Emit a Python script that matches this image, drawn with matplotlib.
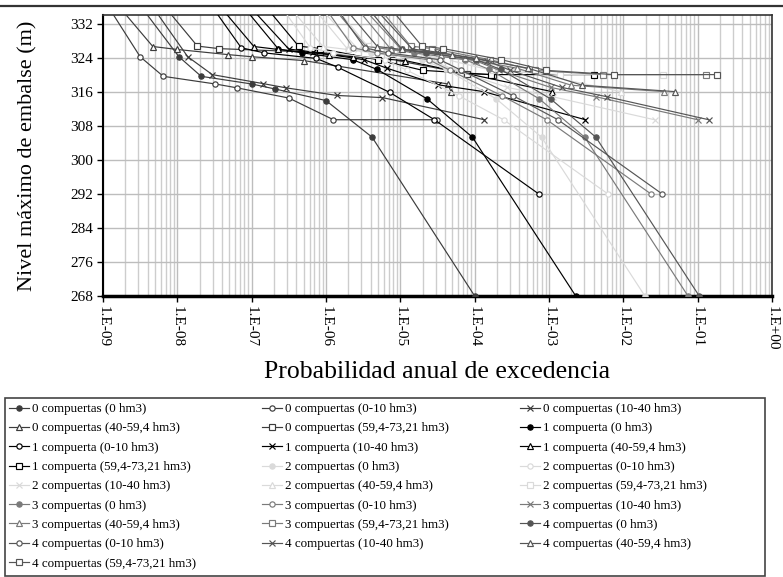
import numpy as np
import matplotlib
matplotlib.use("Agg")
import matplotlib.pyplot as plt
from matplotlib.lines import Line2D
from matplotlib.patches import Rectangle
from matplotlib.ticker import LogLocator, NullFormatter

# ---- data: annual exceedance probability vs. maximum reservoir level ----
gate_labels = ["0 compuertas", "1 compuerta", "2 compuertas", "3 compuertas", "4 compuertas"]
volume_labels = ["0 hm3", "0-10 hm3", "10-40 hm3", "40-59,4 hm3", "59,4-73,21 hm3"]

# initial volume 0 hm3
p_v0_g0 = [1.32e-9, 1.05e-8, 2.09e-8, 1.0e-7, 2.09e-7, 1.0e-6, 4.17e-6, 1.0e-4]
p_v0_g1 = [2.88e-8, 2.29e-7, 4.79e-7, 2.29e-6, 4.90e-6, 2.29e-5, 9.33e-5, 2.29e-3]
p_v0_g2 = [2.45e-7, 1.95e-6, 4.07e-6, 1.95e-5, 4.17e-5, 1.95e-4, 7.94e-4, 1.95e-2]
p_v0_g3 = [9.33e-7, 7.41e-6, 1.55e-5, 7.41e-5, 1.58e-4, 7.41e-4, 3.02e-3, 7.41e-2]
p_v0_g4 = [1.32e-6, 1.05e-5, 2.19e-5, 1.05e-4, 2.24e-4, 1.05e-3, 4.27e-3, 1.05e-1]
h_v0_g0 = [345, 324.2, 319.6, 317.8, 316.6, 313.9, 305.3, 268]
h_v0_gn = [345, 326.0, 325.1, 323.5, 321.2, 314.3, 305.3, 268]

# initial volume 0-10 hm3
p_v1_g0 = [5.5e-10, 3.16e-9, 6.46e-9, 3.24e-8, 6.31e-8, 3.16e-7, 1.26e-6, 3.16e-5]
p_v1_g1 = [1.26e-8, 7.24e-8, 1.48e-7, 7.41e-7, 1.45e-6, 7.24e-6, 2.88e-5, 7.24e-4]
p_v1_g2 = [1.07e-7, 6.17e-7, 1.26e-6, 6.31e-6, 1.23e-5, 6.17e-5, 2.45e-4, 6.17e-3]
p_v1_g3 = [4.07e-7, 2.34e-6, 4.79e-6, 2.40e-5, 4.68e-5, 2.34e-4, 9.33e-4, 2.34e-2]
p_v1_g4 = [5.75e-7, 3.31e-6, 6.76e-6, 3.39e-5, 6.61e-5, 3.31e-4, 1.32e-3, 3.31e-2]
h_v1_g0 = [345, 324.2, 319.6, 317.8, 316.9, 314.5, 309.4, 309.4]
h_v1_g1 = [345, 326.3, 325.1, 323.8, 321.7, 315.8, 309.4, 292]
h_v1_gn = [345, 326.3, 325.1, 323.5, 321.0, 315.0, 309.4, 292]

# initial volume 10-40 hm3
p_v2_g0 = [2.0e-9, 1.38e-8, 2.95e-8, 1.41e-7, 2.88e-7, 1.41e-6, 5.75e-6, 1.35e-4]
p_v2_g1 = [3.16e-8, 3.16e-7, 6.76e-7, 3.24e-6, 6.61e-6, 3.24e-5, 1.32e-4, 3.09e-3]
p_v2_g2 = [2.69e-7, 2.69e-6, 5.75e-6, 2.75e-5, 5.62e-5, 2.75e-4, 1.12e-3, 2.63e-2]
p_v2_g3 = [1.02e-6, 1.02e-5, 2.19e-5, 1.05e-4, 2.14e-4, 1.05e-3, 4.27e-3, 1.0e-1]
p_v2_g4 = [1.45e-6, 1.45e-5, 3.09e-5, 1.48e-4, 3.02e-4, 1.48e-3, 6.03e-3, 1.41e-1]
h_v2_g0 = [345, 324.2, 320.0, 317.9, 316.9, 315.1, 314.6, 309.4]
h_v2_g1 = [345, 326.0, 325.3, 323.5, 321.5, 317.6, 316.0, 309.4]
h_v2_gn = [345, 326.0, 325.3, 323.2, 321.0, 317.0, 314.8, 309.4]

# initial volume 40-59,4 hm3
p_v3_g0 = [6.0e-10, 4.68e-9, 1.0e-8, 4.79e-8, 1.0e-7, 5.01e-7, 4.37e-5, 4.79e-5]
p_v3_g1 = [1.38e-8, 1.07e-7, 2.29e-7, 1.10e-6, 2.29e-6, 1.15e-5, 1.10e-3]
p_v3_g2 = [1.17e-7, 9.12e-7, 1.95e-6, 9.33e-6, 1.95e-5, 9.77e-5, 9.33e-3]
p_v3_g3 = [4.47e-7, 3.47e-6, 7.41e-6, 3.55e-5, 7.41e-5, 3.72e-4, 2.0e-3, 3.55e-2]
p_v3_g4 = [6.31e-7, 4.90e-6, 1.05e-5, 5.01e-5, 1.05e-4, 5.25e-4, 2.8e-3, 5.01e-2]
h_v3_g0 = [345, 326.6, 325.9, 324.7, 324.2, 323.3, 317.8, 316.0]
h_v3_g1 = [345, 326.6, 325.9, 324.7, 324.2, 323.3, 316.0]
h_v3_g34 = [345, 326.6, 325.9, 324.7, 323.8, 321.5, 317.5, 316.0]

# initial volume 59,4-73,21 hm3
p_v4_g0 = [2.51e-9, 1.86e-8, 3.63e-8, 8.32e-7, 7.9e-6, 7.8e-5, 1.74e-4]
p_v4_g1 = [5.75e-8, 4.27e-7, 8.32e-7, 5.0e-6, 2.0e-5, 1.66e-4, 3.98e-3]
p_v4_g2 = [4.90e-7, 3.63e-6, 7.08e-6, 4.25e-5, 1.70e-4, 1.41e-3, 3.39e-2]
p_v4_g3 = [1.86e-6, 1.38e-5, 2.69e-5, 1.60e-4, 6.40e-4, 5.37e-3, 1.29e-1]
p_v4_g4 = [2.63e-6, 1.95e-5, 3.80e-5, 2.29e-4, 9.10e-4, 7.59e-3, 1.82e-1]
h_v4_g0 = [345, 326.7, 326.1, 325.2, 323.5, 320.2, 320.0]
h_v4_gn = [345, 326.7, 326.1, 323.5, 321.0, 320.0, 320.0]

y_ticks = [268, 276, 284, 292, 300, 308, 316, 324, 332]
x_ticks = [1e-9, 1e-8, 1e-7, 1e-6, 1e-5, 1e-4, 1e-3, 1e-2, 1e-1, 1e0]
x_tick_labels = ["1.E-09", "1.E-08", "1.E-07", "1.E-06", "1.E-05",
                 "1.E-04", "1.E-03", "1.E-02", "1.E-01", "1.E+00"]

series = {
    (0, 0): (p_v0_g0, h_v0_g0), (1, 0): (p_v0_g1, h_v0_gn), (2, 0): (p_v0_g2, h_v0_gn),
    (3, 0): (p_v0_g3, h_v0_gn), (4, 0): (p_v0_g4, h_v0_gn),
    (0, 1): (p_v1_g0, h_v1_g0), (1, 1): (p_v1_g1, h_v1_g1), (2, 1): (p_v1_g2, h_v1_gn),
    (3, 1): (p_v1_g3, h_v1_gn), (4, 1): (p_v1_g4, h_v1_gn),
    (0, 2): (p_v2_g0, h_v2_g0), (1, 2): (p_v2_g1, h_v2_g1), (2, 2): (p_v2_g2, h_v2_gn),
    (3, 2): (p_v2_g3, h_v2_gn), (4, 2): (p_v2_g4, h_v2_gn),
    (0, 3): (p_v3_g0, h_v3_g0), (1, 3): (p_v3_g1, h_v3_g1), (2, 3): (p_v3_g2, h_v3_g1),
    (3, 3): (p_v3_g3, h_v3_g34), (4, 3): (p_v3_g4, h_v3_g34),
    (0, 4): (p_v4_g0, h_v4_g0), (1, 4): (p_v4_g1, h_v4_gn), (2, 4): (p_v4_g2, h_v4_gn),
    (3, 4): (p_v4_g3, h_v4_gn), (4, 4): (p_v4_g4, h_v4_gn),
}

# ---- styles ----
gate_colors = ["#3c3c3c", "#000000", "#dadada", "#7a7a7a", "#555555"]
vol_markers = [("o", True, 3.8), ("o", False, 3.8), ("x", False, 4.6),
               ("^", False, 4.3), ("s", False, 3.9)]

plt.rcParams["font.family"] = ["Liberation Serif", "DejaVu Serif"]

fig = plt.figure(figsize=(7.83, 5.77), dpi=100)
ax = fig.add_axes([103 / 783, 1 - 296 / 577, (772 - 103) / 783, (296 - 15) / 577])

handles, labels = [], []
for g in range(5):
    for v in range(5):
        p, h = series[(g, v)]
        col = gate_colors[g]
        mk, filled, ms = vol_markers[v]
        line, = ax.plot(p, h, color=col, lw=0.85, marker=mk, ms=ms,
                        mfc=col if filled else "white", mec=col, mew=0.85,
                        zorder=3)
        handles.append(line)
        labels.append(f"{gate_labels[g]} ({volume_labels[v]})")

ax.set_xscale("log")
ax.set_xlim(1e-9, 1)
ax.set_ylim(268, 334)
ax.set_yticks(y_ticks)
ax.set_yticklabels([str(t) for t in y_ticks], fontsize=11)
ax.set_xticks(x_ticks)
ax.set_xticklabels(x_tick_labels, rotation=-90, fontsize=11)
ax.xaxis.set_minor_locator(LogLocator(base=10, subs=np.arange(2, 10), numticks=100))
ax.xaxis.set_minor_formatter(NullFormatter())
ax.grid(True, which="major", axis="both", color="#bdbdbd", lw=1.0, zorder=0)
ax.grid(True, which="minor", axis="x", color="#cdcdcd", lw=1.0, zorder=0)
ax.tick_params(axis="x", which="minor", length=0)
ax.tick_params(axis="both", which="major", length=4, width=1, color="black", pad=3)
for side in ["top", "right"]:
    ax.spines[side].set_color("#333333")
    ax.spines[side].set_linewidth(1.2)
ax.spines["left"].set_linewidth(1.5)
ax.spines["bottom"].set_linewidth(2.5)
ax.set_axisbelow(True)

ax.set_ylabel("Nivel máximo de embalse (m)", fontsize=16, labelpad=24)
ax.set_xlabel("Probabilidad anual de excedencia", fontsize=18.5, labelpad=8)

# rule across the top of the chart area
fig.add_artist(Line2D([0, 1], [1 - 5.5 / 577] * 2, transform=fig.transFigure,
                      color="#333333", lw=1.6))

# legend: three equal-width columns, entries in row-major order
col_x = [9, 262, 520]
for c in range(3):
    idx = list(range(c, 25, 3))
    fig.legend([handles[i] for i in idx], [labels[i] for i in idx],
               loc="upper left", bbox_to_anchor=(col_x[c] / 783, 1 - 403 / 577),
               frameon=False, fontsize=9.4, handlelength=1.5, handletextpad=0.25,
               labelspacing=0.55, borderaxespad=0, borderpad=0)
fig.patches.append(Rectangle((5 / 783, 1 / 577), 760 / 783, 178 / 577,
                             transform=fig.transFigure, fill=False,
                             edgecolor="#444444", lw=1.2))

fig.savefig("out.png", dpi=100)
